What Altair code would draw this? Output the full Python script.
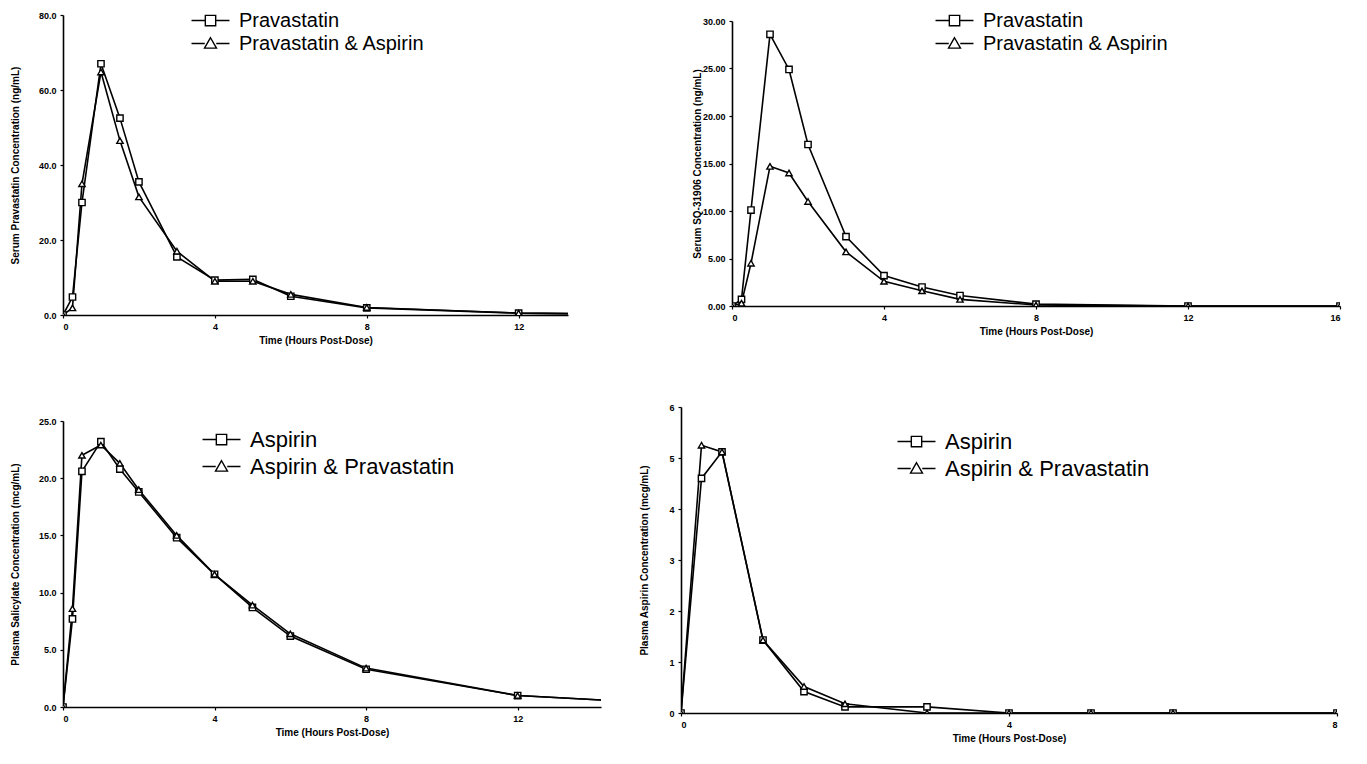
import altair as alt
import pandas as pd

# ---------------- data ----------------
t1 = [0, 0.25, 0.5, 1, 1.5, 2, 3, 4, 5, 6, 8, 12, 16]
p1_prava = [0, 4.8, 30.0, 67.0, 52.5, 35.5, 15.5, 9.3, 9.5, 5.0, 1.9, 0.5, 0.1]
p1_combo = [0, 1.9, 35.0, 64.8, 46.5, 31.5, 17.0, 9.0, 9.0, 5.5, 2.0, 0.5, 0.1]

t2 = [0, 0.25, 0.5, 1, 1.5, 2, 3, 4, 5, 6, 8, 12, 16]
p2_prava = [0, 0.7, 10.1, 28.6, 24.9, 17.0, 7.3, 3.2, 2.0, 1.1, 0.2, 0, 0]
p2_combo = [0, 0.3, 4.5, 14.7, 14.0, 11.0, 5.7, 2.6, 1.6, 0.7, 0.1, 0, 0]

t3 = [0, 0.25, 0.5, 1, 1.5, 2, 3, 4, 5, 6, 8, 12, 16]
p3_asp = [0, 7.7, 20.6, 23.2, 20.8, 18.8, 14.8, 11.6, 8.7, 6.2, 3.3, 1.0, 0.3]
p3_combo = [0, 8.6, 22.0, 22.9, 21.3, 19.0, 15.0, 11.6, 8.9, 6.4, 3.4, 1.0, 0.3]

t4 = [0, 0.25, 0.5, 1, 1.5, 2, 3, 4, 5, 6, 8]
p4_asp = [0, 4.6, 5.12, 1.43, 0.42, 0.12, 0.12, 0, 0, 0, 0]
p4_combo = [0, 5.25, 5.12, 1.43, 0.52, 0.18, 0, 0, 0, 0, 0]

names_top = ["Pravastatin", "Pravastatin & Aspirin"]
names_bot = ["Aspirin", "\u00a0Aspirin & Pravastatin"]

FONT = "Liberation Sans"
SQ_PATH = "M-1.65,0L-0.45,0M0.45,0L1.65,0M-0.45,-0.45L0.45,-0.45L0.45,0.45L-0.45,0.45Z"
TRI_PATH = "M-1.65,0L-0.5,0M0.5,0L1.65,0M0,-0.5L0.52,0.4L-0.52,0.4Z"


def panel(t, a, b, names, ytitle, ydom, yvals, yfmt, xdom, xvals,
          w, h, ytop, lx, ly, lfs, rowpad, tpad):
    df = pd.DataFrame({
        "time": t + t,
        "value": a + b,
        "series": [names[0]] * len(t) + [names[1]] * len(t),
    })
    x = alt.X("time:Q", scale=alt.Scale(domain=xdom, nice=False),
              axis=alt.Axis(values=xvals, title="Time (Hours Post-Dose)", format="d"))
    y = alt.Y("value:Q", scale=alt.Scale(domain=ydom, nice=False, range=[h, ytop]),
              axis=alt.Axis(values=yvals, title=ytitle, format=yfmt, titlePadding=tpad))
    line = alt.Chart(df).mark_line(color="black", strokeWidth=1.6, clip=True).encode(
        x=x, y=y, detail="series:N")
    pts = alt.Chart(df).mark_point(filled=True, fill="white", stroke="black",
                                   strokeWidth=1.4, size=40, opacity=1, clip=True).encode(
        x=x, y=y,
        shape=alt.Shape("series:N",
                        scale=alt.Scale(domain=names, range=["square", "triangle-up"]),
                        legend=None))
    # legend-only layer (no rows drawn): symbols are line + marker paths
    leg = alt.Chart(df).transform_filter("false").mark_point(
        filled=False, color="black", strokeWidth=1.4, opacity=1).encode(
        x=x, y=y,
        shape=alt.Shape("series:N",
                        scale=alt.Scale(domain=names, range=[SQ_PATH, TRI_PATH]),
                        legend=alt.Legend(
                            title=None, orient="none", legendX=lx, legendY=ly,
                            labelFont=FONT, labelFontSize=lfs, labelColor="black",
                            labelLimit=600,
                            symbolSize=529, symbolStrokeColor="black",
                            symbolStrokeWidth=1.4,
                            symbolOpacity=1, labelOffset=16, rowPadding=rowpad)))
    return alt.layer(line, pts, leg).resolve_scale(shape="independent").properties(
        width=w, height=h)


c1 = panel(t1, p1_prava, p1_combo, names_top, "Serum Pravastatin Concentration (ng/mL)",
           [0, 80], [0, 20, 40, 60, 80], ".1f", [0, 13.3], [0, 4, 8, 12],
           505, 300, 0, 135, -7, 20, 0, 18)
c2 = panel(t2, p2_prava, p2_combo, names_top, "Serum SQ-31906 Concentration (ng/mL)",
           [0, 30], [0, 5, 10, 15, 20, 25, 30], ".2f", [0, 16], [0, 4, 8, 12, 16],
           608, 291, 6, 210, -7, 20, 0, 0)
c3 = panel(t3, p3_asp, p3_combo, names_bot, "Plasma Salicylate Concentration (mcg/mL)",
           [0, 25], [0, 5, 10, 15, 20, 25], ".1f", [0, 14.2], [0, 4, 8, 12],
           538, 300, 14, 146, 20, 22, 3, 18)
c4 = panel(t4, p4_asp, p4_combo, names_bot, "Plasma Aspirin Concentration (mcg/mL)",
           [0, 6], [0, 1, 2, 3, 4, 5, 6], "d", [0, 8], [0, 4, 8],
           656, 306, 0, 223, 22, 22, 3, 19)

top = alt.hconcat(c1, c2, spacing=124)
bottom = alt.hconcat(c3, c4, spacing=38)

chart = alt.vconcat(top, bottom, spacing=58).configure_view(stroke=None).configure_axis(
    grid=False,
    domainColor="black", domainWidth=1.6,
    tickColor="black", tickSize=3, tickWidth=1.2,
    labelFont=FONT, labelFontSize=9, labelFontWeight="bold", labelColor="black",
    titleFont=FONT, titleFontSize=10, titleFontWeight="bold", titleColor="black",
    labelPadding=4,
).properties(padding={"left": 2, "top": 0, "right": 5, "bottom": 5})

chart.save("out.html", embed_options={"renderer": "svg", "actions": False})
